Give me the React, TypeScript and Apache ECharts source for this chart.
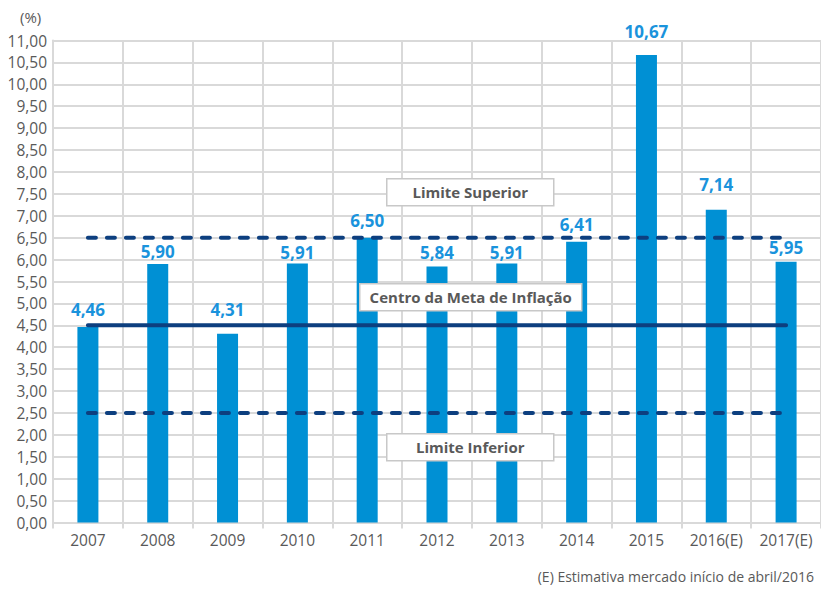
import React, { useEffect, useRef } from "react";
import * as echarts from "echarts";

const categories = ["2007", "2008", "2009", "2010", "2011", "2012", "2013", "2014", "2015", "2016(E)", "2017(E)"];
const ipca = [4.46, 5.9, 4.31, 5.91, 6.5, 5.84, 5.91, 6.41, 10.67, 7.14, 5.95];
const centroMeta = [4.5, 4.5, 4.5, 4.5, 4.5, 4.5, 4.5, 4.5, 4.5, 4.5, 4.5];
const limiteSuperior = [6.5, 6.5, 6.5, 6.5, 6.5, 6.5, 6.5, 6.5, 6.5, 6.5, 6.5];
const limiteInferior = [2.5, 2.5, 2.5, 2.5, 2.5, 2.5, 2.5, 2.5, 2.5, 2.5, 2.5];

const FONT = "'Open Sans', 'Noto Sans', sans-serif";

export default function App() {
  const ref = useRef<HTMLDivElement>(null);
  useEffect(() => {
    if (!ref.current) return;
    const chart = echarts.init(ref.current, null, { renderer: "svg" });
    const lineColor = "#0d3f7f";
    // label gap above each bar, as placed in the original layout
    const labelGaps = [9, 4, 16, 3, 9, 6, 3, 9, 15, 17, 6];
    const boxText = (x: number, y: number, w: number, h: number, text: string) => ({
      type: "group",
      left: x,
      top: y,
      z: 100,
      children: [
        { type: "rect", z: 100, shape: { x: 0, y: 0, width: w, height: h }, style: { fill: "#ffffff", stroke: "#c8c8c8", lineWidth: 1.5 } },
        {
          type: "text",
          z: 101,
          x: w / 2,
          y: h / 2,
          style: { text, fill: "#595959", font: `bold 15px ${FONT}`, align: "center", verticalAlign: "middle" },
        },
      ],
    });
    const barData = ipca.map((v, i) => ({ value: v, label: { distance: labelGaps[i] } }));
    chart.setOption({
      animation: false,
      backgroundColor: "#ffffff",
      grid: { left: 53, top: 40.5, width: 775.5, height: 482, containLabel: false },
      xAxis: {
        type: "category",
        data: categories,
        boundaryGap: true,
        axisLine: { show: true, lineStyle: { color: "#d9d9d9", width: 2 } },
        axisTick: { show: true, interval: 0, length: 6, lineStyle: { color: "#d9d9d9", width: 2 } },
        axisLabel: { interval: 0, color: "#595959", fontSize: 15.5, fontFamily: FONT, margin: 9 },
        splitLine: { show: true, interval: 0, lineStyle: { color: "#d9d9d9", width: 2 } },
      },
      yAxis: {
        type: "value",
        min: 0,
        max: 11,
        interval: 0.5,
        axisLine: { show: true, lineStyle: { color: "#d9d9d9", width: 2 } },
        axisTick: { show: false },
        axisLabel: {
          color: "#595959",
          fontSize: 15.5,
          fontFamily: FONT,
          margin: 6,
          formatter: (v: number) => v.toFixed(2).replace(".", ","),
        },
        splitLine: { show: true, lineStyle: { color: "#d9d9d9", width: 2 } },
      },
      series: [
        {
          type: "bar",
          data: barData,
          barWidth: 21,
          itemStyle: { color: "#0090d4" },
          label: {
            show: true,
            position: "top",
            distance: 6,
            color: "#1a93dc",
            fontSize: 17,
            fontWeight: "bold",
            fontFamily: FONT,
            formatter: (p: any) => p.value.toFixed(2).replace(".", ","),
          },
          z: 2,
        },
        {
          type: "line",
          data: centroMeta,
          symbol: "none",
          lineStyle: { color: lineColor, width: 4, cap: "round" },
          z: 3,
        },
        {
          type: "line",
          data: limiteSuperior,
          symbol: "none",
          lineStyle: { color: lineColor, width: 4, type: [8, 11], cap: "round" },
          z: 3,
        },
        {
          type: "line",
          data: limiteInferior,
          symbol: "none",
          lineStyle: { color: lineColor, width: 4, type: [8, 11], cap: "round" },
          z: 3,
        },
      ],
      graphic: [
        {
          type: "text",
          left: 20,
          top: 9,
          z: 100,
          style: { text: "(%)", fill: "#595959", font: `15px ${FONT}` },
        },
        boxText(386, 178, 167, 27, "Limite Superior"),
        boxText(359, 283, 222, 27, "Centro da Meta de Inflação"),
        boxText(386, 433, 167, 27, "Limite Inferior"),
        {
          type: "text",
          right: 7,
          top: 569,
          z: 100,
          style: { text: "(E) Estimativa mercado início de abril/2016", fill: "#595959", font: `14px ${FONT}` },
        },
      ],
    });
    return () => chart.dispose();
  }, []);
  return <div ref={ref} style={{ position: "absolute", left: 0, top: 0, width: 821, height: 589 }} />;
}
